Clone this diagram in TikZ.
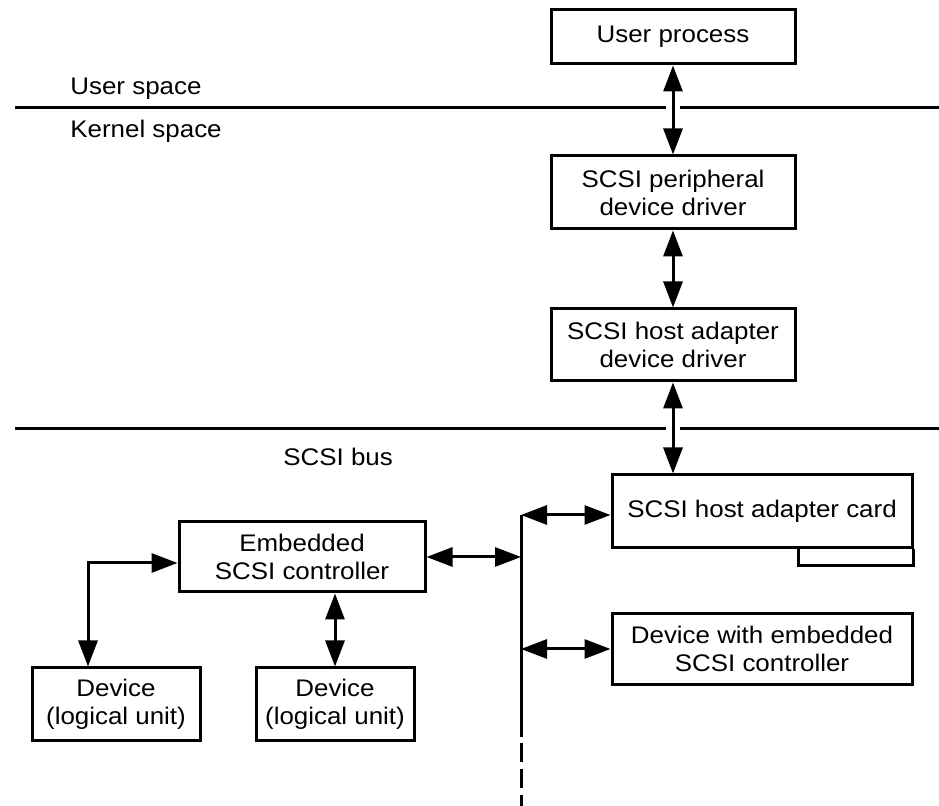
\documentclass[tikz,border=0pt]{standalone}
\usepackage{fontspec}
\setmainfont{Liberation Sans}[FakeStretch=1.08]
\usetikzlibrary{arrows.meta}
\tikzset{
  box/.style   = {draw, rectangle, line width=1.5pt, inner sep=0pt, align=center,
                  font=\fontsize{12}{14}\selectfont},
  lbl/.style   = {inner sep=0pt, anchor=base west, font=\fontsize{12}{14}\selectfont},
  link/.style  = {<->, >={Triangle[length=13pt,width=9.5pt]}, line width=1.5pt},
  divider/.style = {line width=1.5pt},
  bus/.style   = {line width=1.5pt}
}

\begin{document}
\begin{tikzpicture}[x=0.5pt,y=-0.5pt]
	\useasboundingbox (0,0) rectangle (939,806);
	\node[box, minimum width=122pt, minimum height=27pt]   (user)    at (673,37)    {User process};
	\node[box, minimum width=122pt, minimum height=36.5pt] (periph)  at (673,192.5) {SCSI peripheral\\device driver};
	\node[box, minimum width=122pt, minimum height=36pt]   (hostdrv) at (673,345)   {SCSI host adapter\\device driver};
	\node[box, minimum width=150pt, minimum height=36.5pt] (card)    at (762,511.5) {SCSI host adapter card};
	\node[box, minimum width=150pt, minimum height=35.5pt] (devemb)  at (762,649)   {Device with embedded\\SCSI controller};
	\node[box, minimum width=123pt, minimum height=35pt]   (embctl)  at (302,557)   {Embedded\\SCSI controller};
	\node[box, minimum width=84pt,  minimum height=36.5pt] (dev1)    at (116,704.5) {Device\\(logical unit)};
	\node[box, minimum width=79pt,  minimum height=36.5pt] (dev2)    at (335,704.5) {Device\\(logical unit)};
	\node[lbl] (userlbl)   at (70,95)  {User space};
	\node[lbl] (kernellbl) at (70,138) {Kernel space};
	\node[lbl] (buslbl)    at (283,466) {SCSI bus};
	\draw[divider] (15,108) -- (666,108) (680,108) -- (939,108);
	\draw[divider] (15,429) -- (666,429) (680,429) -- (939,429);
	\coordinate (bustop)  at (521,515);
	\coordinate (busmid)  at (521,737);
	\coordinate (busdash) at (521,743);
	\coordinate (busend)  at (521,806);
	\coordinate (elbow)   at (88,563);
	\coordinate (tab)     at (798,566);
	\draw[divider] (card.south east) |- (tab) -- (tab |- card.south);
	\draw[bus] (bustop) -- (busmid);
	\draw[bus, dash pattern=on 9.5pt off 3.5pt] (busdash) -- (busend);
	\draw[link] (user) -- (periph);
	\draw[link] (periph) -- (hostdrv);
	\draw[link] (hostdrv.south) -- (hostdrv.south |- card.north);
	\draw[link] (bustop) -- (card.west |- bustop);
	\draw[link] (embctl) -- (embctl -| bustop);
	\draw[link] (devemb -| bustop) -- (devemb);
	\draw[link] (embctl.west |- elbow) -- (elbow) -- (elbow |- dev1.north);
	\draw[link] (dev2.north |- embctl.south) -- (dev2.north);
\end{tikzpicture}
\end{document}
